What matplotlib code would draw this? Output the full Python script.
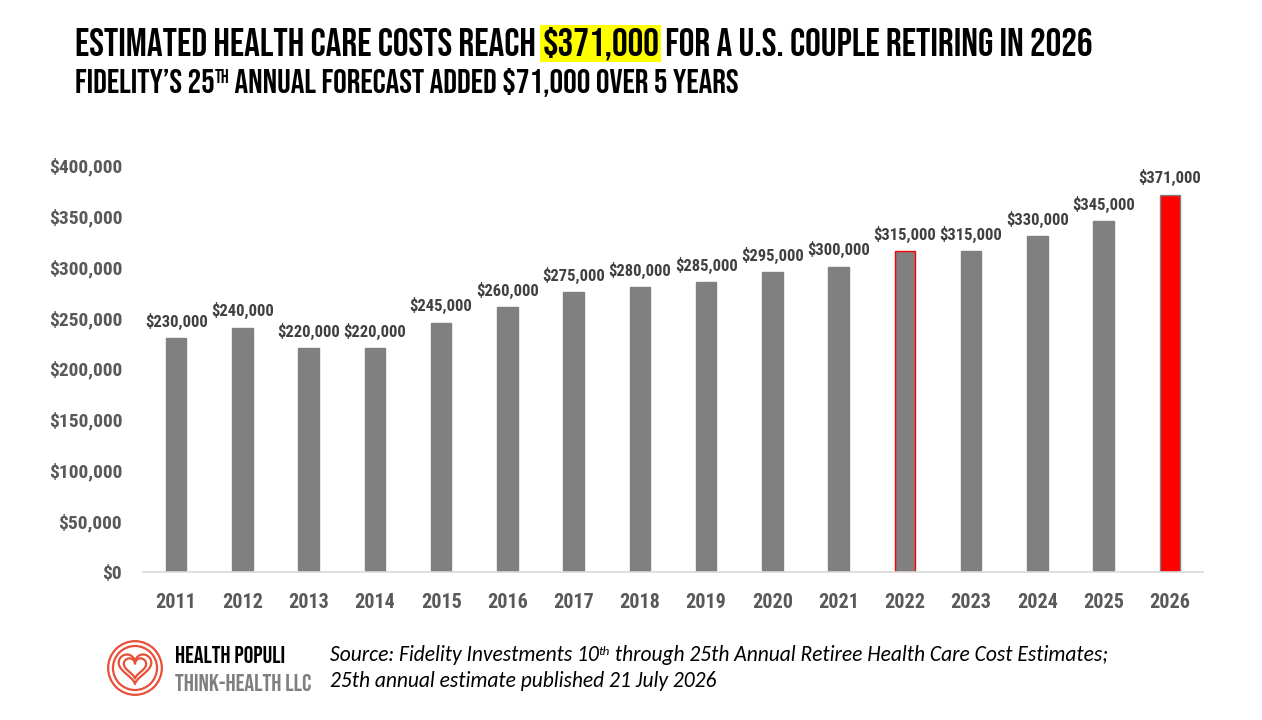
import matplotlib
matplotlib.use("Agg")
import matplotlib.pyplot as plt
import numpy as np
from matplotlib import font_manager as fm
from matplotlib.patches import Circle
from matplotlib.ticker import FuncFormatter, MultipleLocator

years = ["2011", "2012", "2013", "2014", "2015", "2016", "2017", "2018",
         "2019", "2020", "2021", "2022", "2023", "2024", "2025", "2026"]
costs = [230000, 240000, 220000, 220000, 245000, 260000, 275000, 280000,
         285000, 295000, 300000, 315000, 315000, 330000, 345000, 371000]
bar_colors = ["#808080"] * 15 + ["#FF0000"]
edge_colors = ["#808080"] * 11 + ["#FF0000"] + ["#808080"] * 4

names = {f.name for f in fm.fontManager.ttflist}
def pick(cands):
    for c in cands:
        if c in names:
            return c
    return "DejaVu Sans"
head = pick(["Bebas Neue", "Oswald", "Anton", "Roboto Condensed", "DejaVu Sans"])
narrow = pick(["Roboto Condensed", "Archivo Narrow", "Barlow Condensed", "DejaVu Sans"])
italic_font = pick(["Carlito", "Open Sans", "Lato", "DejaVu Sans"])

W, H = 1262, 720
fig = plt.figure(figsize=(W / 100, H / 100), dpi=100)
fig.patch.set_facecolor("white")

ax = fig.add_axes([143 / W, 1 - 572 / H, (1203 - 143) / W, (572 - 165) / H])
x = np.arange(len(years))
ax.bar(x, costs, width=0.31, color=bar_colors, edgecolor=edge_colors, linewidth=1)
ax.set_xlim(-0.5, len(years) - 0.5)
ax.set_ylim(0, 400000)
ax.yaxis.set_major_locator(MultipleLocator(50000))
ax.yaxis.set_major_formatter(FuncFormatter(lambda v, p: f"${v:,.0f}"))
ax.set_xticks(x)
ax.set_xticklabels(years)
for s in ["top", "right", "left"]:
    ax.spines[s].set_visible(False)
ax.spines["bottom"].set_color("#D9D9D9")
ax.spines["bottom"].set_linewidth(1.2)
ax.tick_params(axis="both", length=0, colors="#595959")
ax.tick_params(axis="y", pad=15)
ax.tick_params(axis="x", pad=15)
for lab in ax.get_yticklabels():
    lab.set_fontfamily(narrow)
    lab.set_fontweight("bold")
    lab.set_fontsize(14)
for lab in ax.get_xticklabels():
    lab.set_fontfamily(narrow)
    lab.set_fontweight("bold")
    lab.set_fontsize(14.5)
for xi, v in zip(x, costs):
    ax.annotate(f"${v:,.0f}", (xi, v), xytext=(0, 6), textcoords="offset points",
                ha="center", va="bottom", fontfamily=narrow, fontweight="bold",
                fontsize=12, color="#404040")

renderer = fig.canvas.get_renderer()

def width_px(t):
    return t.get_window_extent(renderer).width

def fit_size(parts, target, base, fam, weight="normal", style="normal", supr=0.55):
    size = base
    for _ in range(3):
        total = 0
        tmp = []
        for txt, kind in parts:
            fs = size * (supr if kind == "sup" else 1)
            t = fig.text(0, 0, txt, fontfamily=fam, fontweight=weight, style=style, fontsize=fs)
            total += width_px(t)
            tmp.append(t)
        for t in tmp:
            t.remove()
        size *= target / total
    return size

def draw(parts, size, y, x0, fam, color="black", weight="normal", style="normal",
         supr=0.55, supup=0.42):
    cx = x0
    for txt, kind in parts:
        fs = size * (supr if kind == "sup" else 1)
        yy = y - (size * supup if kind == "sup" else 0)
        kw = {}
        if kind == "hl":
            kw["bbox"] = dict(facecolor="#FFFF00", edgecolor="none", pad=1.5)
        t = fig.text(cx / W, 1 - yy / H, txt, fontfamily=fam, fontweight=weight, style=style,
                     fontsize=fs, color=color, va="baseline", ha="left", **kw)
        cx += width_px(t)

p1 = [("ESTIMATED HEALTH CARE COSTS REACH ", "n"), ("$371,000", "hl"),
      (" FOR A U.S. COUPLE RETIRING IN 2026", "n")]
draw(p1, fit_size(p1, 1018, 26, head), 56, 75, head)
p2 = [("FIDELITY\u2019S 25", "n"), ("TH", "sup"),
      (" ANNUAL FORECAST ADDED $71,000 OVER 5 YEARS", "n")]
draw(p2, fit_size(p2, 665, 20, head), 93, 75, head)

# logo
lax = fig.add_axes([106 / W, 1 - 697 / H, 58 / W, 58 / H])
lax.set_xlim(-1.08, 1.08)
lax.set_ylim(-1.08, 1.08)
lax.set_aspect("equal")
lax.axis("off")
lc = "#E8503A"
for r in [1.0, 0.82]:
    lax.add_patch(Circle((0, 0), r, fill=False, edgecolor=lc, linewidth=1.6))
tt = np.linspace(0, 2 * np.pi, 200)
hx = 16 * np.sin(tt) ** 3
hy = 13 * np.cos(tt) - 5 * np.cos(2 * tt) - 2 * np.cos(3 * tt) - np.cos(4 * tt)
for s in [0.038, 0.026]:
    lax.plot(hx * s, hy * s + 0.05, color=lc, linewidth=1.6)

l1 = [("HEALTH POPULI", "n")]
draw(l1, fit_size(l1, 110, 14, head), 663, 175, head)
l2 = [("THINK-HEALTH LLC", "n")]
draw(l2, fit_size(l2, 136, 14, head), 691, 175, head, color="#7F7F7F")

# source
s1 = [("Source: Fidelity Investments 10", "n"), ("th", "sup"),
      (" through 25th Annual Retiree Health Care Cost Estimates;", "n")]
ss = fit_size(s1, 780, 13, italic_font, style="italic", supr=0.62)
draw(s1, ss, 661, 330, italic_font, style="italic", supr=0.62, supup=0.4)
draw([("25th annual estimate published 21 July 2026", "n")], ss, 687, 330, italic_font,
     style="italic")

fig.savefig("out.png", dpi=100, facecolor="white")
